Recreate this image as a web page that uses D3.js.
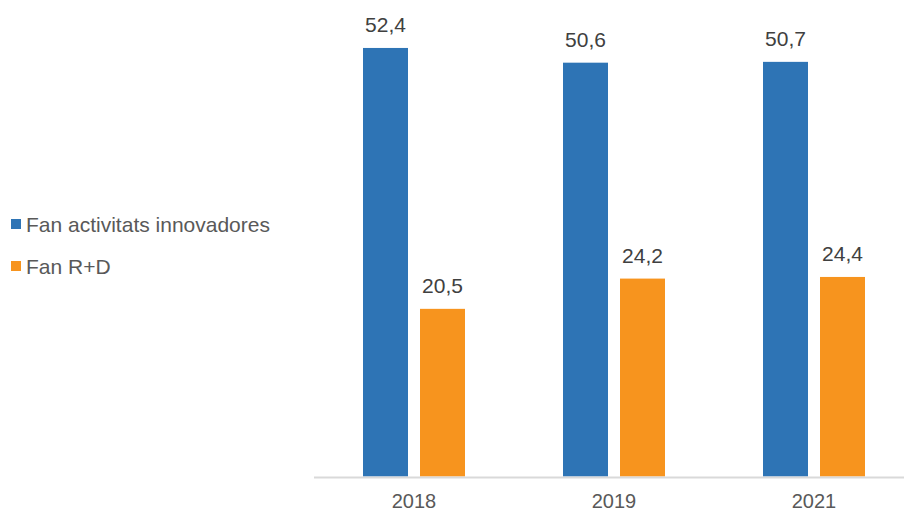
<!DOCTYPE html>
<html>
<head>
<meta charset="utf-8">
<script src="https://cdn.jsdelivr.net/npm/d3@7"></script>
<style>
  html, body { margin: 0; padding: 0; background: #fff; }
  svg { display: block; font-family: Arial, "Liberation Sans", sans-serif; }
</style>
</head>
<body>
<svg id="chart" width="904" height="511"></svg>
<script>
const years = ["2018", "2019", "2021"];
const seriesNames = ["Fan activitats innovadores", "Fan R+D"];
const innovadores = [52.4, 50.6, 50.7];
const rd = [20.5, 24.2, 24.4];
const colors = ["#2E74B5", "#F7941E"];

const seriesValues = [innovadores, rd];
const svg = d3.select("#chart");

const x0 = d3.scaleBand().domain(years).range([314, 914]).paddingInner(0.49).paddingOuter(0.245);
const x1 = d3.scaleBand().domain(seriesNames).range([0, x0.bandwidth()]).paddingInner(0.2105);
const y = d3.scaleLinear().domain([0, 60]).range([476.5, -14.2]);

// bars
const groups = svg.selectAll("g.year").data(years).enter().append("g")
  .attr("transform", d => `translate(${x0(d)},0)`);

seriesNames.forEach((s, si) => {
  groups.append("rect")
    .attr("x", x1(s))
    .attr("y", (d, i) => y(seriesValues[si][i]))
    .attr("width", x1.bandwidth())
    .attr("height", (d, i) => y(0) - y(seriesValues[si][i]))
    .attr("fill", colors[si]);
  groups.append("text")
    .attr("x", x1(s) + x1.bandwidth() / 2)
    .attr("y", (d, i) => y(seriesValues[si][i]) - 15.5)
    .attr("text-anchor", "middle")
    .attr("font-size", 21)
    .attr("fill", "#404040")
    .text((d, i) => seriesValues[si][i].toFixed(1).replace(".", ","));
});

// x axis
const xAxis = d3.axisBottom(x0).tickSize(0).tickPadding(17);
const ax = svg.append("g").attr("transform", `translate(0,${y(0)})`).call(xAxis);
ax.select(".domain").attr("stroke", "#d9d9d9").attr("stroke-width", 2).attr("d", "M314,1H904");
ax.selectAll("text").attr("font-size", 20).attr("fill", "#595959").attr("font-family", "Arial, 'Liberation Sans', sans-serif");

// legend
const legend = svg.append("g");
seriesNames.forEach((s, i) => {
  const cy = 224 + i * 42;
  legend.append("rect").attr("x", 11).attr("y", cy - 5).attr("width", 10).attr("height", 10).attr("fill", colors[i]);
  legend.append("text").attr("x", 26).attr("y", cy + 7.5).attr("font-size", 21).attr("fill", "#595959").text(s);
});
</script>
</body>
</html>
